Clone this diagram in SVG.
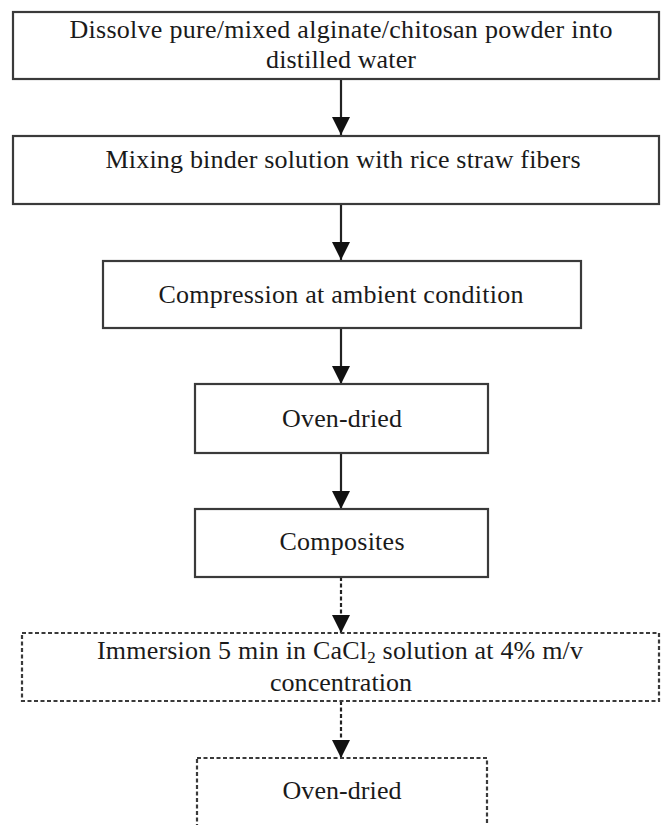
<svg xmlns="http://www.w3.org/2000/svg" width="661" height="825" viewBox="0 0 661 825">
<defs>
<style>
.box{fill:#fff;stroke:#3a3a3a;stroke-width:2.2}
.dbox{fill:#fff;stroke:#3a3a3a;stroke-width:2.2;stroke-dasharray:4 2.5}
.ln{stroke:#222;stroke-width:2.2;fill:none}
.dln{stroke:#222;stroke-width:2.2;fill:none;stroke-dasharray:4 2.5}
text{font-family:'Liberation Serif','Times New Roman',Times,serif;font-size:26px;fill:#1a1a1a;text-anchor:middle}
</style>
<marker id="ah" viewBox="0 0 18 18" refX="18" refY="9" markerWidth="18" markerHeight="18" markerUnits="userSpaceOnUse" orient="auto">
<path d="M0,0 L18,9 L0,18 Z" fill="#111"/>
</marker>
</defs>
<rect width="661" height="825" fill="#fff"/>
<g id="connectors">
<line class="ln" x1="341" y1="80" x2="341" y2="135" marker-end="url(#ah)"/>
<line class="ln" x1="341" y1="204" x2="341" y2="260" marker-end="url(#ah)"/>
<line class="ln" x1="341" y1="328" x2="341" y2="384" marker-end="url(#ah)"/>
<line class="ln" x1="341" y1="453" x2="341" y2="509" marker-end="url(#ah)"/>
<line class="dln" x1="341" y1="577" x2="341" y2="633" marker-end="url(#ah)"/>
<line class="dln" x1="341" y1="701" x2="341" y2="758" marker-end="url(#ah)"/>
</g>
<g id="n1">
<rect class="box" x="13" y="12" width="646" height="67"/>
<text x="341" y="38" textLength="543" lengthAdjust="spacing">Dissolve pure/mixed alginate/chitosan powder into</text>
<text x="341" y="68" textLength="150" lengthAdjust="spacing">distilled water</text>
</g>
<g id="n2">
<rect class="box" x="13" y="136" width="646" height="68"/>
<text x="343" y="168" textLength="475" lengthAdjust="spacing">Mixing binder solution with rice straw fibers</text>
</g>
<g id="n3">
<rect class="box" x="103" y="261" width="478" height="67"/>
<text x="341" y="303" textLength="365" lengthAdjust="spacing">Compression at ambient condition</text>
</g>
<g id="n4">
<rect class="box" x="195" y="384" width="293" height="69"/>
<text x="342" y="427" textLength="120" lengthAdjust="spacing">Oven-dried</text>
</g>
<g id="n5">
<rect class="box" x="195" y="509" width="293" height="68"/>
<text x="342" y="550" textLength="125" lengthAdjust="spacing">Composites</text>
</g>
<g id="n6">
<rect class="dbox" x="22" y="633" width="637" height="68"/>
<text x="340" y="659" textLength="486" lengthAdjust="spacing">Immersion 5 min in CaCl<tspan font-size="17" dy="4">2</tspan><tspan dy="-4"> solution at 4% m/v</tspan></text>
<text x="341" y="691" textLength="142" lengthAdjust="spacing">concentration</text>
</g>
<g id="n7">
<rect class="dbox" x="197" y="758" width="290" height="70"/>
<text x="342" y="799" textLength="119" lengthAdjust="spacing">Oven-dried</text>
</g>
</svg>
